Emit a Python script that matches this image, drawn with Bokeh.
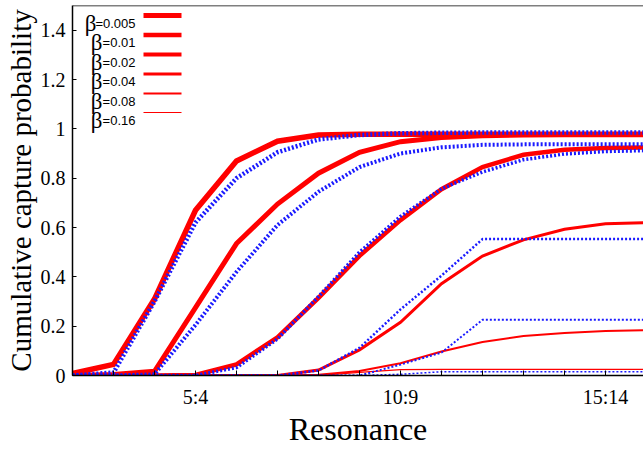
from bokeh.plotting import figure
from bokeh.models import FixedTicker, Label, BoxAnnotation, Span, Range1d, CustomJSTickFormatter
from bokeh.embed import file_html
from bokeh.resources import INLINE

# ---------------- data ----------------
resonances = ["2:1", "3:2", "4:3", "5:4", "6:5", "7:6", "8:7", "9:8", "10:9",
              "11:10", "12:11", "13:12", "14:13", "15:14", "16:15"]
shown_ticks = ["5:4", "10:9", "15:14"]
betas = ["0.005", "0.01", "0.02", "0.04", "0.08", "0.16"]

red_b005 = [0.008, 0.045, 0.31, 0.67, 0.87, 0.95, 0.975, 0.978, 0.978, 0.978, 0.978, 0.978, 0.978, 0.978, 0.978]
red_b01 = [0.0, 0.004, 0.017, 0.275, 0.535, 0.695, 0.82, 0.905, 0.948, 0.965, 0.972, 0.975, 0.976, 0.976, 0.976]
red_b02 = [0.0, 0.0, 0.0, 0.002, 0.045, 0.155, 0.315, 0.485, 0.63, 0.755, 0.845, 0.895, 0.915, 0.922, 0.924]
red_b04 = [0.0, 0.0, 0.0, 0.0, 0.0, 0.0, 0.022, 0.104, 0.216, 0.372, 0.484, 0.55, 0.593, 0.615, 0.62]
red_b08 = [0.0, 0.0, 0.0, 0.0, 0.0, 0.0, 0.003, 0.018, 0.05, 0.097, 0.136, 0.16, 0.172, 0.18, 0.184]
red_b16 = [0.0, 0.0, 0.0, 0.0, 0.0, 0.0, 0.0, 0.013, 0.024, 0.025, 0.025, 0.025, 0.025, 0.025, 0.025]

blue_b005 = [0.0, 0.012, 0.30, 0.62, 0.80, 0.905, 0.957, 0.975, 0.982, 0.984, 0.985, 0.985, 0.985, 0.985, 0.985]
blue_b01 = [0.0, 0.0, 0.005, 0.205, 0.42, 0.61, 0.745, 0.845, 0.9, 0.925, 0.935, 0.937, 0.938, 0.938, 0.938]
blue_b02 = [0.0, 0.0, 0.0, 0.0, 0.032, 0.148, 0.32, 0.5, 0.645, 0.757, 0.825, 0.875, 0.898, 0.908, 0.912]
blue_b04 = [0.0, 0.0, 0.0, 0.0, 0.0, 0.0, 0.02, 0.112, 0.268, 0.405, 0.553, 0.553, 0.553, 0.553, 0.553]
blue_b08 = [0.0, 0.0, 0.0, 0.0, 0.0, 0.0, 0.0, 0.0, 0.044, 0.093, 0.226, 0.226, 0.226, 0.226, 0.226]
blue_b16 = [0.0, 0.0, 0.0, 0.0, 0.0, 0.0, 0.0, 0.0, 0.005, 0.015, 0.015, 0.015, 0.015, 0.015, 0.015]

y_ticks = [0, 0.2, 0.4, 0.6, 0.8, 1, 1.2, 1.4]
y_tick_labels = ["0", "0.2", "0.4", "0.6", "0.8", "1", "1.2", "1.4"]

red_series = [red_b005, red_b01, red_b02, red_b04, red_b08, red_b16]
blue_series = [blue_b005, blue_b01, blue_b02, blue_b04, blue_b08, blue_b16]

# ---------------- styles ----------------
RED = "#ff0000"
BLUE = "#1a1aff"
SERIF = "Times New Roman"
red_widths = [5.5, 5, 4.5, 3, 2, 1.2]
blue_widths = [4.5, 4, 3.5, 2.5, 2, 1.5]
legend_widths = [5, 4.5, 4, 3, 2, 1]

W, H = 643, 449
B_LEFT, B_TOP, B_BOTTOM = 72, 5, 68
FRAME_W = W - B_LEFT
FRAME_H = H - B_TOP - B_BOTTOM
x_idx = list(range(len(resonances)))

p = figure(width=W, height=H, output_backend="svg",
           toolbar_location=None, min_border_left=B_LEFT, min_border_right=0,
           min_border_top=B_TOP, min_border_bottom=B_BOTTOM,
           x_range=Range1d(0, FRAME_W / 41.0), y_range=Range1d(0, 1.5))
p.outline_line_color = None
p.grid.visible = False
p.background_fill_color = "white"
p.border_fill_color = "white"

for ys, w in zip(red_series, red_widths):
    p.line(x_idx, ys, line_color=RED, line_width=w, line_join="miter")
for ys, w in zip(blue_series, blue_widths):
    p.line(x_idx, ys, line_color=BLUE, line_width=w, line_dash="2 2")

# top border
p.add_layout(Span(location=1.5, dimension="width", line_color="black", line_width=1.5))

# axes
xa = p.xaxis[0]
xa.ticker = FixedTicker(ticks=x_idx)
xa.formatter = CustomJSTickFormatter(
    args=dict(res_names=resonances, res_shown=shown_ticks),
    code="const s = res_names[Math.round(tick)]; return (s !== undefined && res_shown.includes(s)) ? s : '';")
xa.minor_tick_line_color = None
xa.major_tick_in = 5
xa.major_tick_out = 0
xa.major_label_standoff = 10
xa.major_label_text_font = SERIF
xa.major_label_text_font_size = "20px"
xa.major_label_text_color = "black"
xa.axis_label = "Resonance"
xa.axis_label_text_font = "Liberation Serif"
xa.axis_label_text_font_size = "32px"
xa.axis_label_text_font_style = "normal"
xa.axis_label_text_color = "black"
xa.axis_label_standoff = 0
xa.axis_line_width = 1.5
xa.axis_line_color = "black"
xa.major_tick_line_color = "black"

ya = p.yaxis[0]
ya.ticker = FixedTicker(ticks=y_ticks)
ya.formatter = CustomJSTickFormatter(
    args=dict(yvals=y_ticks, ytexts=y_tick_labels),
    code="for (let i = 0; i < yvals.length; i++) { if (Math.abs(yvals[i] - tick) < 1e-6) return ytexts[i]; } return '';")
ya.minor_tick_line_color = None
ya.major_tick_in = 4
ya.major_tick_out = 0
ya.major_label_standoff = 7
ya.major_label_text_font = SERIF
ya.major_label_text_font_size = "20px"
ya.major_label_text_color = "black"
ya.axis_label = "Cumulative capture probability"
ya.axis_label_text_font = "Liberation Serif"
ya.axis_label_text_font_size = "29px"
ya.axis_label_text_font_style = "normal"
ya.axis_label_text_color = "black"
ya.axis_label_standoff = 1
ya.axis_line_width = 1.5
ya.axis_line_color = "black"
ya.major_tick_line_color = "black"

# legend (label left, line sample right), positions in screen px relative to frame
def sx(xp):
    return xp - B_LEFT
def sy(yp):
    return FRAME_H - (yp - B_TOP)

row_y = [21, 40.5, 60, 79.5, 99, 118]
for i, b in enumerate(betas):
    base = row_y[i] + 7.5
    sub = Label(x=sx(135), y=sy(base), x_units="screen", y_units="screen",
                text="=" + b, text_font="Liberation Sans", text_font_size="13px",
                text_align="right", text_baseline="alphabetic", text_color="black")
    p.add_layout(sub)
    bx = 96 if i == 0 else 102
    beta = Label(x=sx(bx), y=sy(base), x_units="screen", y_units="screen",
                 text="β", text_font="Liberation Serif", text_font_size="23px",
                 text_align="right", text_baseline="alphabetic", text_color="black")
    p.add_layout(beta)
    hw = legend_widths[i] / 2.0
    p.add_layout(BoxAnnotation(left=sx(143), right=sx(181),
                               top=sy(row_y[i] - hw), bottom=sy(row_y[i] + hw),
                               left_units="screen", right_units="screen",
                               top_units="screen", bottom_units="screen",
                               fill_color=RED, fill_alpha=1.0, line_color=None))

open("out.html", "w").write(file_html(p, INLINE))
